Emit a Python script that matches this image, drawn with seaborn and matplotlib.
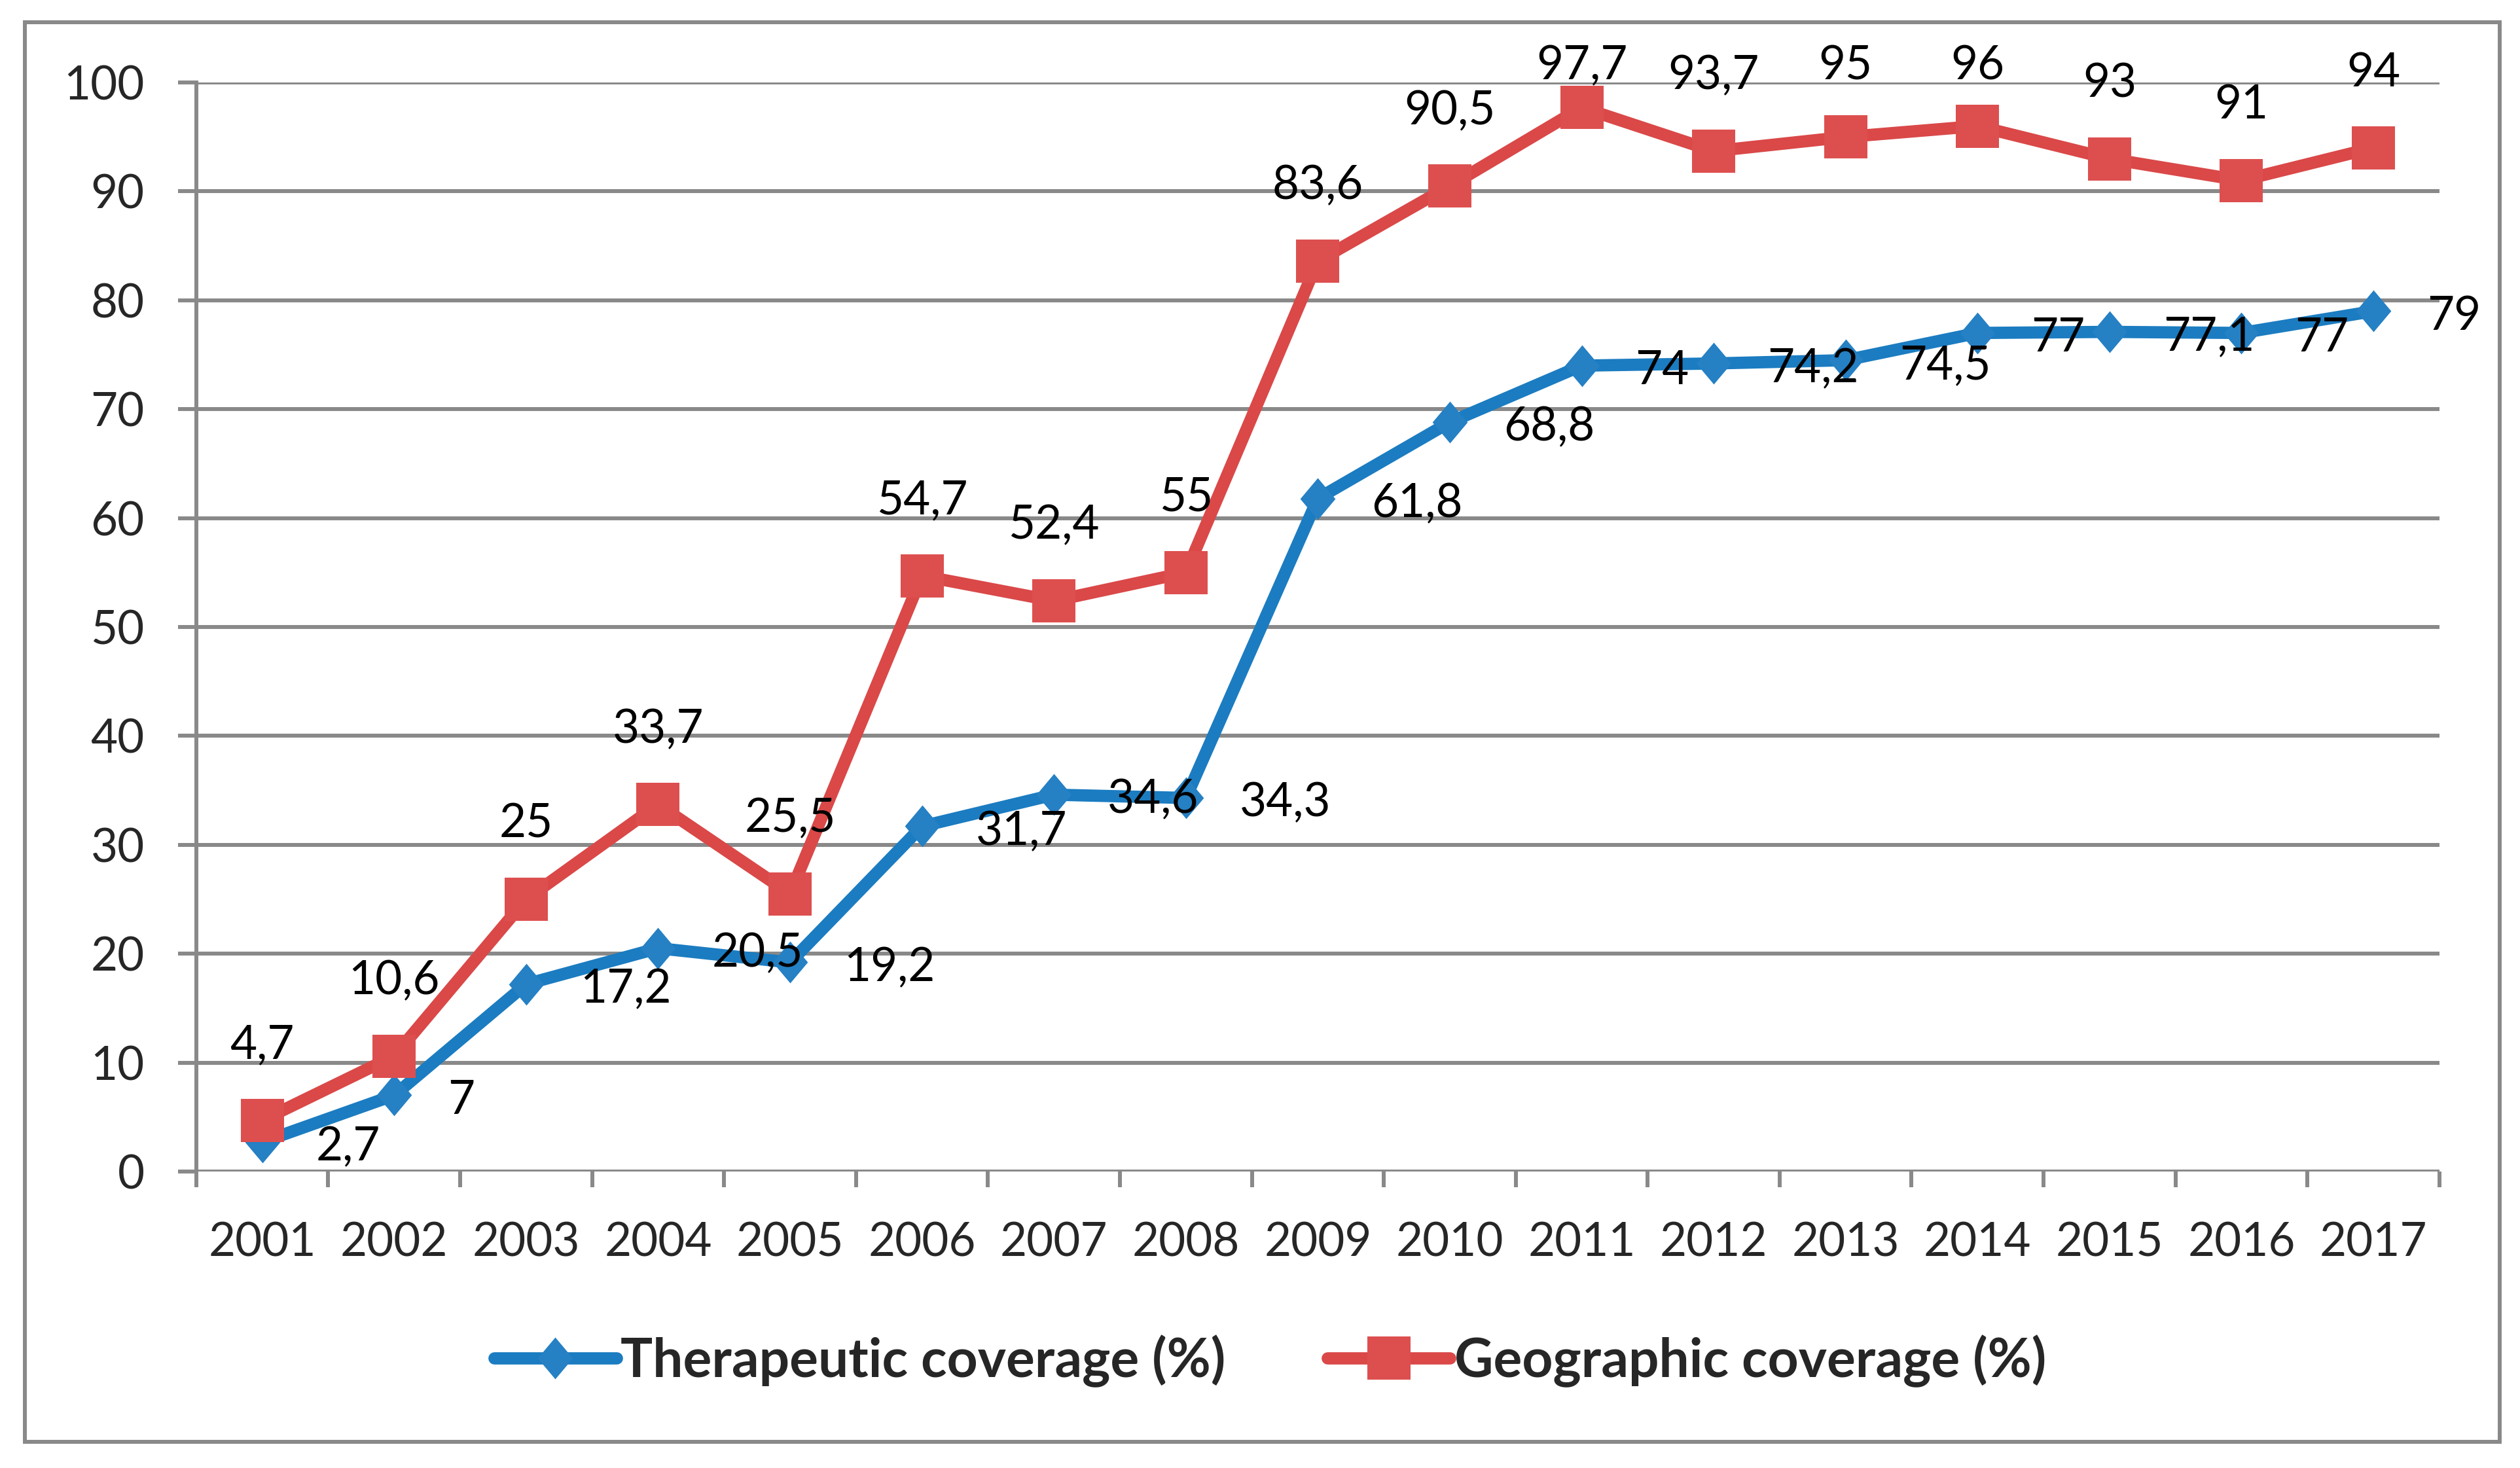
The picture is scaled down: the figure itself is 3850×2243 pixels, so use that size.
import matplotlib.pyplot as plt
import matplotlib.patches as mpatches
import seaborn as sns
import numpy as np

years = ['2001', '2002', '2003', '2004', '2005', '2006', '2007', '2008', '2009',
         '2010', '2011', '2012', '2013', '2014', '2015', '2016', '2017']
therapeutic = [2.7, 7, 17.2, 20.5, 19.2, 31.7, 34.6, 34.3, 61.8,
               68.8, 74, 74.2, 74.5, 77, 77.1, 77, 79]
geographic = [4.7, 10.6, 25, 33.7, 25.5, 54.7, 52.4, 55, 83.6,
              90.5, 97.7, 93.7, 95, 96, 93, 91, 94]
series_names = ['Therapeutic coverage (%)', 'Geographic coverage (%)']

sns.set_style('white')
plt.rcParams['font.family'] = ['Lato', 'DejaVu Sans']

GRAY = '#898989'
BLUE = '#1B7CC1'
RED = '#DA4848'

fig = plt.figure(figsize=(38.5, 22.43), dpi=100)
ax = fig.add_axes([0.0779, 0.202, 0.8901, 0.7418])

# outer chart border
fig.patches.append(mpatches.Rectangle((0.0099, 0.0178), 0.9821, 0.967,
                                      transform=fig.transFigure, fill=False,
                                      edgecolor=GRAY, linewidth=4.3))

x = np.arange(len(years))
diamond = [(0, 1), (0.84, 0), (0, -1), (-0.84, 0), (0, 1)]

sns.lineplot(x=x, y=therapeutic, ax=ax, color=BLUE, linewidth=13.5,
             marker=diamond, markersize=46, markerfacecolor='#2580C4',
             markeredgewidth=0, label=series_names[0], clip_on=False)
sns.lineplot(x=x, y=geographic, ax=ax, color=RED, linewidth=13.5,
             marker='s', markersize=48, markerfacecolor='#DD4F4F',
             markeredgewidth=0, label=series_names[1], clip_on=False)

fmt = lambda v: f'{v:g}'.replace('.', ',')
for i, v in enumerate(therapeutic):
    ax.annotate(fmt(v), xy=(i, v), xytext=(82, -8), textcoords='offset pixels',
                ha='left', va='center', fontsize=51, color='black')
for i, v in enumerate(geographic):
    ax.annotate(fmt(v), xy=(i, v), xytext=(i, min(v + 6.9, 101.5)),
                textcoords='data', ha='center', va='center',
                fontsize=51, color='black', annotation_clip=False)

ax.set_xlim(-0.5, len(years) - 0.5)
ax.set_ylim(0, 100)
ax.set_yticks(range(0, 101, 10))
ax.set_xticks(x)
ax.set_xticklabels(years)
ax.set_xticks(np.arange(-0.5, len(years), 1), minor=True)

ax.grid(axis='y', color=GRAY, linewidth=4.3)
ax.set_axisbelow(True)
for s in ['top', 'right', 'bottom']:
    ax.spines[s].set_visible(False)
ax.spines['left'].set_color(GRAY)
ax.spines['left'].set_linewidth(4.3)
ax.axhline(0, color=GRAY, linewidth=4.3, zorder=1)

ax.tick_params(axis='y', which='major', left=True, length=20, width=4.3,
               color=GRAY, pad=37, labelsize=51)
ax.tick_params(axis='x', which='major', bottom=True, length=0, pad=55,
               labelsize=51)
ax.tick_params(axis='x', which='minor', bottom=True, length=17, width=4.3,
               color=GRAY, direction='out')

handles, labels = ax.get_legend_handles_labels()
ax.get_legend().remove()
leg = fig.legend(handles, labels, loc='center', bbox_to_anchor=(0.504, 0.073),
                 ncol=2, frameon=False, handlelength=2.28, handletextpad=0.08,
                 columnspacing=1.9, prop={'weight': 'bold', 'size': 59})

fig.savefig('out.png', dpi=100, facecolor='white')
